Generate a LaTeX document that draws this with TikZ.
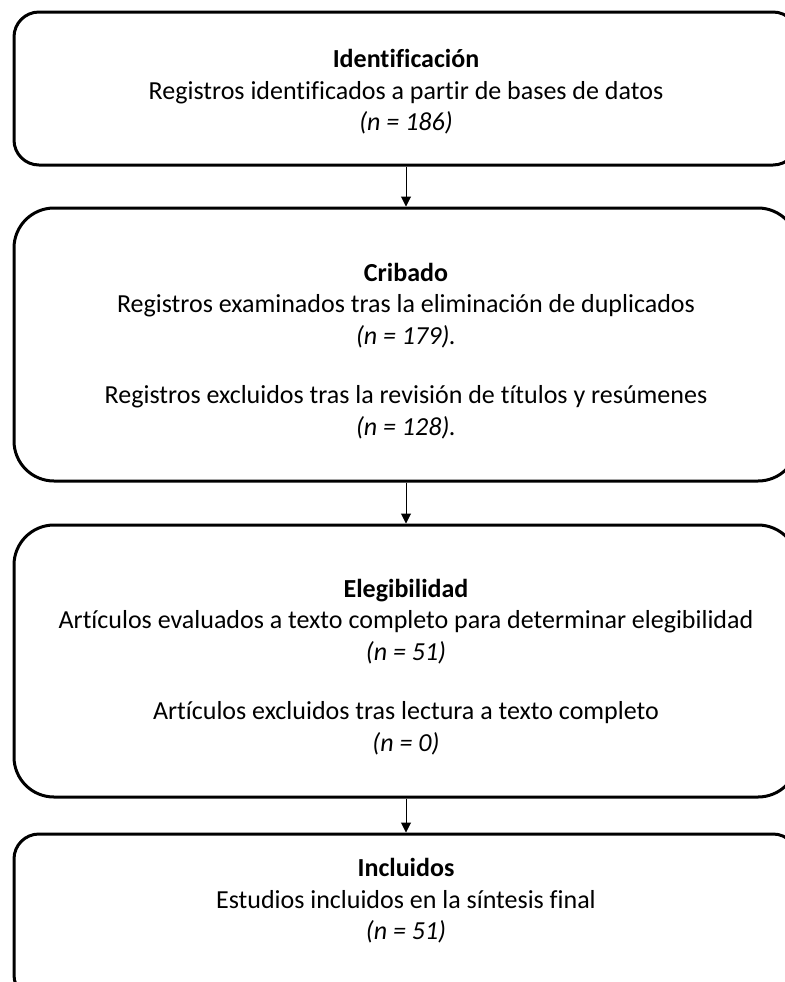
\documentclass[tikz,border=0pt]{standalone}
\usepackage{fontspec}
\setmainfont{Carlito}[Ligatures=NoCommon]
\usetikzlibrary{arrows.meta}

\begin{document}
\begin{tikzpicture}[x=0.5pt,y=-0.5pt,
   box/.style={draw, line width=1.5pt, minimum width=392pt, inner sep=0pt},
   boxtext/.style={align=center, font=\fontsize{13}{15.75}\selectfont},
   flow/.style={-{Triangle[width=5pt,length=5pt]}, line width=0.5pt}]
   \useasboundingbox (0,0) rectangle (785,982);
   % boxes
   \node[box, rounded corners=12.5pt, minimum height=76.5pt] (ident) at (406,88.5) {};
   \node[box, rounded corners=20pt, minimum height=136.5pt] (crib) at (406,344.5) {};
   \node[box, rounded corners=20pt, minimum height=136pt] (eleg) at (406,661) {};
   \node[box, rounded corners=12.5pt, minimum height=83pt] (incl) at (406,917) {};
   % texts
   \node[boxtext] (ident-txt) at (406,92) {\textbf{Identificación}\\
      Registros identificados a partir de bases de datos\\\textit{(n = 186)}};
   \node[boxtext] (crib-txt) at (406,351) {\textbf{Cribado}\\
      Registros examinados tras la eliminación de duplicados\\\textit{(n = 179).}\\[14pt]
      Registros excluidos tras la revisión de títulos y resúmenes\\\textit{(n = 128).}};
   \node[boxtext] (eleg-txt) at (406,667) {\textbf{Elegibilidad}\\
      Artículos evaluados a texto completo para determinar elegibilidad\\\textit{(n = 51)}\\[14pt]
      Artículos excluidos tras lectura a texto completo\\\textit{(n = 0)}};
   \node[boxtext] (incl-txt) at (406,901) {\textbf{Incluidos}\\
      Estudios incluidos en la síntesis final\\\textit{(n = 51)}};
   % arrows
   \draw[flow] (ident) -- (crib);
   \draw[flow] (crib) -- (eleg);
   \draw[flow] (eleg) -- (incl);
\end{tikzpicture}
\end{document}
